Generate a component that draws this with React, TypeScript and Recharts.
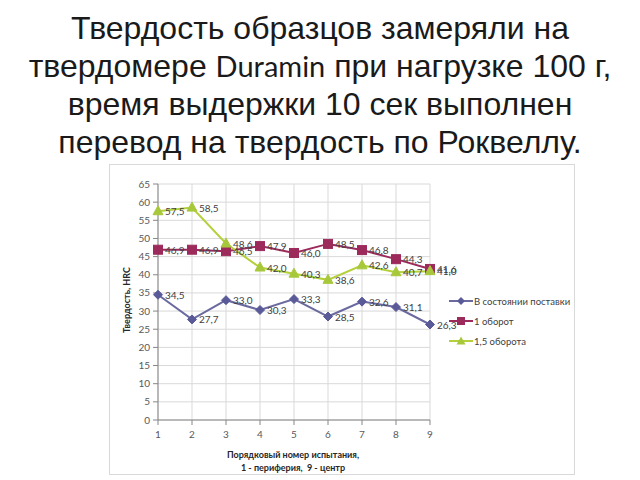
import React from 'react';
import { LineChart, Line, XAxis, YAxis, CartesianGrid, LabelList } from 'recharts';

const tests = [1, 2, 3, 4, 5, 6, 7, 8, 9];
const asDelivered = [34.5, 27.7, 33.0, 30.3, 33.3, 28.5, 32.6, 31.1, 26.3];
const oneTurn = [46.9, 46.9, 46.5, 47.9, 46.0, 48.5, 46.8, 44.3, 41.6];
const oneAndHalfTurn = [57.5, 58.5, 48.6, 42.0, 40.3, 38.6, 42.6, 40.7, 41.0];
const yTicks = [0, 5, 10, 15, 20, 25, 30, 35, 40, 45, 50, 55, 60, 65];
const seriesNames = ['В состоянии поставки', '1 оборот', '1,5 оборота'];
const titleLines = ['Твердость образцов замеряли на', 'твердомере ', 'Duramin', ' при нагрузке 100 г,', 'время выдержки 10 сек выполнен', 'перевод на твердость по Роквеллу.'];

const data = tests.map((t, i) => ({ t, a: asDelivered[i], b: oneTurn[i], c: oneAndHalfTurn[i] }));

const COLORS = { a: '#5A5A98', b: '#9C2B5C', c: '#A8C83C' };
const LINE_COLORS = { a: '#6A6AA0', b: '#9C2B5C', c: '#B4D03A' };
const FONT = 'Lato, "Open Sans", sans-serif';

const Diamond = (props: any) => {
  const { cx, cy } = props;
  if (cx == null || cy == null) return null;
  const r = 4.5;
  return <path d={`M${cx},${cy - r}L${cx + r},${cy}L${cx},${cy + r}L${cx - r},${cy}Z`} fill={COLORS.a} stroke={COLORS.a} />;
};
const Square = (props: any) => {
  const { cx, cy } = props;
  if (cx == null || cy == null) return null;
  return <rect x={cx - 4.5} y={cy - 4.5} width={9} height={9} fill={COLORS.b} stroke={COLORS.b} />;
};
const Triangle = (props: any) => {
  const { cx, cy } = props;
  if (cx == null || cy == null) return null;
  return <path d={`M${cx},${cy - 5.5}L${cx + 5},${cy + 3.5}L${cx - 5},${cy + 3.5}Z`} fill={COLORS.c} stroke={COLORS.c} />;
};

const fmt = (v: number) => v.toFixed(1).replace('.', ',');

const renderLabel = (props: any) => {
  const { x, y, value } = props;
  return (
    <text x={x + 7} y={y + 4} fontSize={10} fill="#404040" fontFamily={FONT} textAnchor="start">
      {fmt(value)}
    </text>
  );
};

const LegendBox = () => {
  const items = [
    { name: seriesNames[0], color: LINE_COLORS.a, mark: 'd' },
    { name: seriesNames[1], color: LINE_COLORS.b, mark: 's' },
    { name: seriesNames[2], color: LINE_COLORS.c, mark: 't' },
  ];
  return (
    <div style={{ position: 'absolute', left: 449, top: 291 }}>
      {items.map((it, i) => (
        <div key={i} style={{ display: 'flex', alignItems: 'center', height: 20, fontFamily: FONT, fontSize: 9.5, color: '#404040' }}>
          <svg width={24} height={12} style={{ marginRight: 1 }}>
            <line x1={0} y1={6} x2={24} y2={6} stroke={it.color} strokeWidth={2} />
            {it.mark === 'd' && <path d="M12,2L16,6L12,10L8,6Z" fill={COLORS.a} />}
            {it.mark === 's' && <rect x={8} y={2} width={8} height={8} fill={COLORS.b} />}
            {it.mark === 't' && <path d="M12,1.5L16.5,9.5L7.5,9.5Z" fill={COLORS.c} />}
          </svg>
          <span>{it.name}</span>
        </div>
      ))}
    </div>
  );
};

export default function App() {
  return (
    <div style={{ position: 'fixed', left: 0, top: 0, width: 640, height: 480, background: '#fff', overflow: 'hidden' }}>
      <div style={{ position: 'absolute', left: 0, top: 9, width: 640, textAlign: 'center', fontFamily: '"Liberation Sans", Arial, sans-serif', fontSize: 32, lineHeight: '38px', color: '#1a1a1a', whiteSpace: 'nowrap' }}>
        <div>{titleLines[0]}</div>
        <div>
          {titleLines[1]}
          <span style={{ fontFamily: FONT, fontSize: 29 }}>{titleLines[2]}</span>
          {titleLines[3]}
        </div>
        <div>{titleLines[4]}</div>
        <div>{titleLines[5]}</div>
      </div>
      <div style={{ position: 'absolute', left: 109, top: 164, width: 466, height: 311, border: '1px solid #D9D9D9', boxSizing: 'border-box' }} />
      <div style={{ position: 'absolute', left: 109, top: 164 }}>
        <LineChart width={466} height={311} data={data} margin={{ top: 20, right: 145, bottom: 30, left: 19 }}>
          <CartesianGrid stroke="#D9D9D9" strokeWidth={1} vertical horizontal />
          <XAxis
            dataKey="t"
            type="number"
            domain={[1, 9]}
            ticks={tests}
            interval={0}
            height={25}
            tick={{ fontSize: 10, fill: '#595959', fontFamily: FONT }}
            stroke="#868686"
            tickSize={5}
            tickMargin={6}
          />
          <YAxis
            domain={[0, 65]}
            ticks={yTicks}
            interval={0}
            width={30}
            tick={{ fontSize: 10, fill: '#595959', fontFamily: FONT }}
            stroke="#868686"
            tickSize={5}
            tickMargin={3}
          />
          <Line dataKey="a" name={seriesNames[0]} stroke={LINE_COLORS.a} strokeWidth={2} dot={<Diamond />} activeDot={false} isAnimationActive={false}>
            <LabelList dataKey="a" content={renderLabel} />
          </Line>
          <Line dataKey="b" name={seriesNames[1]} stroke={LINE_COLORS.b} strokeWidth={2} dot={<Square />} activeDot={false} isAnimationActive={false}>
            <LabelList dataKey="b" content={renderLabel} />
          </Line>
          <Line dataKey="c" name={seriesNames[2]} stroke={LINE_COLORS.c} strokeWidth={2} dot={<Triangle />} activeDot={false} isAnimationActive={false}>
            <LabelList dataKey="c" content={renderLabel} />
          </Line>
        </LineChart>
      </div>
      <LegendBox />
      <div style={{ position: 'absolute', left: 127 - 60, top: 300 - 7, width: 120, height: 14, transform: 'rotate(-90deg)', textAlign: 'center', fontFamily: FONT, fontWeight: 700, fontSize: 9, color: '#262626', lineHeight: '14px' }}>
        Твердость, HRC
      </div>
      <div style={{ position: 'absolute', left: 193, top: 448, width: 200, textAlign: 'center', fontFamily: FONT, fontWeight: 700, fontSize: 9, color: '#262626', lineHeight: '13px' }}>
        <div>Порядковый номер испытания,</div>
        <div>1 - периферия,&nbsp; 9 - центр</div>
      </div>
    </div>
  );
}
